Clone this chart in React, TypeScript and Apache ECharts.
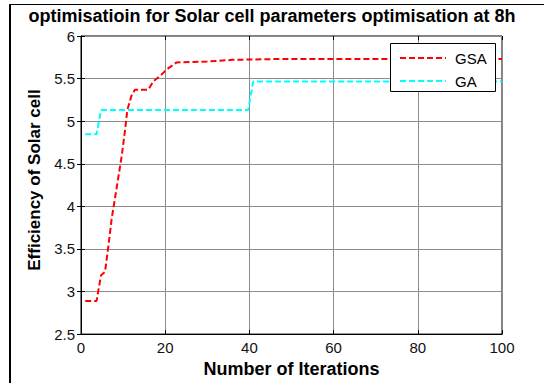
import React, { useEffect, useRef } from "react";
import * as echarts from "echarts";

const titleText = "optimisatioin for Solar cell parameters optimisation at 8h";
const xName = "Number of Iterations";
const yName = "Efficiency of Solar cell";
const seriesNames = ["GSA", "GA"];
const seriesColors = ["#ff0000", "#00ffff"];

const gsaIterations = [1, 3.7, 4.75, 5.7, 6.5, 7.3, 7.8, 9.7, 10.5, 11, 12, 12.8, 16, 17.2, 18.8, 20, 20.7, 22.7, 30, 36, 47, 100];
const gsaValues = [2.89, 2.89, 3.19, 3.23, 3.53, 3.86, 4.01, 4.6, 4.91, 5.13, 5.3, 5.37, 5.37, 5.47, 5.53, 5.59, 5.62, 5.69, 5.7, 5.72, 5.73, 5.73];

const gaIterations = [1, 3.7, 4.75, 39.7, 40.9, 100];
const gaValues = [4.845, 4.845, 5.13, 5.13, 5.465, 5.465];

const xTicks = { min: 0, max: 100, interval: 20 };
const yTicks = { min: 2.5, max: 6, interval: 0.5 };

const FONT = "'Liberation Sans', Arial, sans-serif";

export default function App() {
  const ref = useRef<HTMLDivElement>(null);
  useEffect(() => {
    const chart = echarts.init(ref.current!, null, { renderer: "svg" });
    const gsaData = gsaIterations.map((x, i) => [x, gsaValues[i]]);
    const gaData = gaIterations.map((x, i) => [x, gaValues[i]]);
    const tickStyle = { show: true, inside: true, length: 4, lineStyle: { color: "#000", width: 1 } };
    const legendBox = { x: 390, y: 43, w: 105, h: 48 };
    const legendRows = [58, 81];
    const legendGraphics: any[] = [
      {
        type: "rect",
        z: 100,
        shape: { x: legendBox.x + 0.5, y: legendBox.y + 0.5, width: legendBox.w, height: legendBox.h },
        style: { fill: "#fff", stroke: "#000", lineWidth: 1 },
      },
    ];
    seriesNames.forEach((name, i) => {
      legendGraphics.push({
        type: "line",
        z: 101,
        shape: { x1: 400, y1: legendRows[i], x2: 446, y2: legendRows[i] },
        style: { stroke: seriesColors[i], lineWidth: 2, lineDash: [6, 3] },
      });
      legendGraphics.push({
        type: "text",
        z: 101,
        x: 455,
        y: legendRows[i],
        style: { text: name, fontFamily: FONT, fontSize: 15, fill: "#000", verticalAlign: "middle", align: "left" },
      });
    });
    chart.setOption({
      animation: false,
      backgroundColor: "#fff",
      title: {
        text: titleText,
        left: "center",
        top: 7,
        padding: 0,
        textStyle: { fontFamily: FONT, fontSize: 18, fontWeight: "bold", color: "#000" },
      },
      grid: { left: 81, right: 42, top: 36, bottom: 45, show: true, borderColor: "#000", borderWidth: 1 },
      xAxis: [
        {
          type: "value",
          ...xTicks,
          position: "bottom",
          name: xName,
          nameLocation: "middle",
          nameGap: 25,
          nameTextStyle: { fontFamily: FONT, fontSize: 18, fontWeight: "bold", color: "#000" },
          axisLine: { show: true, lineStyle: { color: "#000", width: 1 } },
          axisTick: tickStyle,
          axisLabel: { fontFamily: FONT, fontSize: 15, color: "#111", margin: 6 },
          splitLine: { show: true, lineStyle: { color: "#8c8c8c", width: 1 } },
        },
        {
          type: "value",
          ...xTicks,
          position: "top",
          axisLine: { show: false },
          axisTick: tickStyle,
          axisLabel: { show: false },
          splitLine: { show: false },
        },
      ],
      yAxis: [
        {
          type: "value",
          ...yTicks,
          position: "left",
          name: yName,
          nameLocation: "middle",
          nameRotate: 90,
          nameGap: 32,
          nameTextStyle: { fontFamily: FONT, fontSize: 17, fontWeight: "bold", color: "#000", padding: [0, 0, 0, 10] },
          axisLine: { show: true, lineStyle: { color: "#000", width: 1 } },
          axisTick: tickStyle,
          axisLabel: { fontFamily: FONT, fontSize: 15, color: "#111", margin: 6 },
          splitLine: { show: true, lineStyle: { color: "#8c8c8c", width: 1 } },
        },
        {
          type: "value",
          ...yTicks,
          position: "right",
          axisLine: { show: false },
          axisTick: tickStyle,
          axisLabel: { show: false },
          splitLine: { show: false },
        },
      ],
      series: [
        {
          name: seriesNames[0],
          type: "line",
          data: gsaData,
          showSymbol: false,
          symbol: "none",
          lineStyle: { color: seriesColors[0], width: 2, type: [6, 3] },
          itemStyle: { color: seriesColors[0] },
        },
        {
          name: seriesNames[1],
          type: "line",
          data: gaData,
          showSymbol: false,
          symbol: "none",
          lineStyle: { color: seriesColors[1], width: 2, type: [6, 3] },
          itemStyle: { color: seriesColors[1] },
        },
      ],
      graphic: [
        { type: "line", shape: { x1: 10, y1: 4.5, x2: 544, y2: 4.5 }, style: { stroke: "#000", lineWidth: 1 } },
        { type: "line", shape: { x1: 10, y1: 4, x2: 10, y2: 383 }, style: { stroke: "#000", lineWidth: 2 } },
        ...legendGraphics,
      ],
    });
    return () => chart.dispose();
  }, []);
  return <div ref={ref} style={{ position: "fixed", left: 0, top: 0, width: 544, height: 383 }} />;
}
